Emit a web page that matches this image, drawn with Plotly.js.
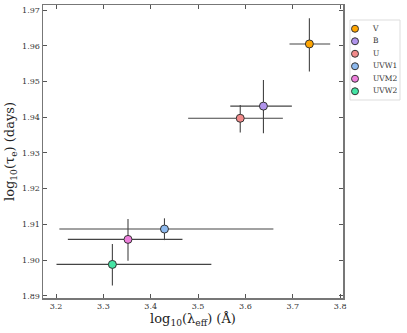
<!DOCTYPE html>
<html><head><meta charset="utf-8">
<script src="https://cdn.plot.ly/plotly-3.0.1.min.js"></script>
<style>body{margin:0;padding:0;background:#fff}#chart{width:407px;height:333px}</style>
</head><body><div id="chart"></div>
<script>
const bands = ["V", "B", "U", "UVW1", "UVM2", "UVW2"];
const logLambda = [3.735, 3.638, 3.589, 3.429, 3.352, 3.319];
const logLambdaErrPlus = [0.044, 0.060, 0.090, 0.230, 0.115, 0.209];
const logLambdaErrMinus = [0.042, 0.070, 0.110, 0.222, 0.127, 0.118];
const logTau = [1.9605, 1.9431, 1.9397, 1.9087, 1.9058, 1.8988];
const logTauErrPlus = [0.0072, 0.0073, 0.0037, 0.0030, 0.0057, 0.0057];
const logTauErrMinus = [0.0077, 0.0076, 0.0040, 0.0031, 0.0060, 0.0059];
const colors = ["#FFA500", "#B194EC", "#F28A8A", "#8DB9EE", "#EE7FDC", "#44E4A4"];

const fam = "DejaVu Serif, Liberation Serif, serif";

const traces = bands.map((b, i) => ({
  type: "scatter", mode: "markers", name: b, showlegend: false,
  x: [logLambda[i]], y: [logTau[i]],
  error_x: {type: "data", symmetric: false, array: [logLambdaErrPlus[i]], arrayminus: [logLambdaErrMinus[i]],
            color: "#444", thickness: 1.1, width: 0},
  error_y: {type: "data", symmetric: false, array: [logTauErrPlus[i]], arrayminus: [logTauErrMinus[i]],
            color: "#444", thickness: 1.1, width: 0},
  marker: {size: 8, color: colors[i], line: {color: "#333", width: 1}}
}));

// legend drawn as a small inset panel
traces.push({
  type: "scatter", mode: "markers", xaxis: "x2", yaxis: "y2", showlegend: false, hoverinfo: "skip",
  x: bands.map(() => 1), y: bands,
  marker: {size: 7, color: colors, line: {color: "#333", width: 1}}
});
traces.push({
  type: "scatter", mode: "text", xaxis: "x2", yaxis: "y2", showlegend: false, hoverinfo: "skip",
  x: bands.map(() => 4.6), y: bands, text: bands, textposition: "middle right",
  textfont: {family: fam, size: 7.5, color: "#333"}
});

const L = 43, W = 407 - 45, T = 5, H = 333 - 40;
const px = v => (v - L) / W;
const py = v => 1 - (v - T) / H;

const layout = {
  width: 407, height: 333,
  margin: {l: 43, r: 2, t: 5, b: 35, autoexpand: false},
  paper_bgcolor: "#fff", plot_bgcolor: "#fff",
  showlegend: false,
  font: {family: fam, color: "#222"},
  xaxis: {
    domain: [0, px(343)],
    range: [3.1725, 3.806], tickvals: [3.2, 3.3, 3.4, 3.5, 3.6, 3.7, 3.8],
    ticktext: ["3.2", "3.3", "3.4", "3.5", "3.6", "3.7", "3.8"],
    ticks: "inside", ticklen: 4, tickcolor: "#555", showline: true, linecolor: "#777", linewidth: 1.5,
    mirror: "ticks", showgrid: false, zeroline: false,
    tickfont: {family: fam, size: 8, color: "#333"},
    title: {text: "log<sub>10</sub>(λ<sub>eff</sub>) (Å)", font: {family: fam, size: 13, color: "#222"}, standoff: 2}
  },
  yaxis: {
    range: [1.8894, 1.9714], tickvals: [1.89, 1.90, 1.91, 1.92, 1.93, 1.94, 1.95, 1.96, 1.97],
    ticktext: ["1.89", "1.90", "1.91", "1.92", "1.93", "1.94", "1.95", "1.96", "1.97"],
    ticks: "inside", ticklen: 4, tickcolor: "#555", showline: true, linecolor: "#777", linewidth: 1.5,
    mirror: "ticks", showgrid: false, zeroline: false,
    tickfont: {family: fam, size: 8, color: "#333"},
    title: {text: "log<sub>10</sub>(τ<sub>e</sub>) (days)", font: {family: fam, size: 13, color: "#222"}, standoff: 4}
  },
  xaxis2: {domain: [px(350), px(400)], anchor: "y2", range: [0, 10], visible: false, fixedrange: true},
  yaxis2: {domain: [py(100), py(20)], anchor: "x2", type: "category", categoryarray: bands,
           range: [5.7, -0.7], visible: false, fixedrange: true},
  shapes: [{type: "rect", xref: "x2 domain", yref: "y2 domain", x0: 0, x1: 1, y0: 0, y1: 1,
            line: {color: "#ddd", width: 1}, fillcolor: "rgba(0,0,0,0)", layer: "below"}]
};
Plotly.newPlot("chart", traces, layout, {displayModeBar: false, staticPlot: true});
</script></body></html>
